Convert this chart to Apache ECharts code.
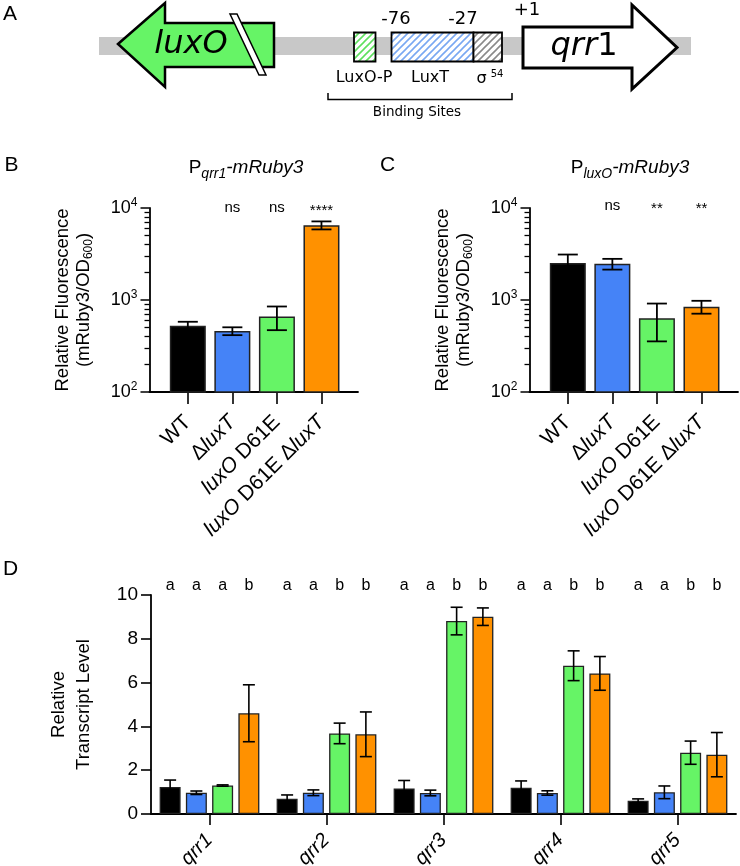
<!DOCTYPE html>
<html>
<head>
<meta charset="utf-8">
<script src="https://cdn.jsdelivr.net/npm/echarts@6/dist/echarts.min.js"></script>
<style>
  html, body { margin: 0; padding: 0; background: #fff; }
  #main { width: 740px; height: 866px; }
</style>
</head>
<body>
<div id="main"></div>
<script>
// strains shared by panels B, C and D
const strains = ['WT', 'ΔluxT', 'luxO D61E', 'luxO D61E ΔluxT']
const strainColors = ['#000000', '#4583f7', '#66f466', '#ff9100']

// panel B: Pqrr1-mRuby3 (log scale)
const bMean = [525, 460, 660, 6500]
const bErr = [55, 45, 190, 650]
const bSig = ['', 'ns', 'ns', '****']

// panel C: PluxO-mRuby3 (log scale)
const cMean = [2530, 2470, 635, 845]
const cErr = [590, 330, 280, 135]
const cSig = ['', 'ns', '**', '**']

// log axis ticks
const logDecades = [100, 1000, 10000]
const logMinor = [200, 300, 400, 500, 600, 700, 800, 900, 2000, 3000, 4000, 5000, 6000, 7000, 8000, 9000]

// panel D: relative transcript levels
const genes = ['qrr1', 'qrr2', 'qrr3', 'qrr4', 'qrr5']
const dWT = [1.23, 0.70, 1.17, 1.20, 0.61]
const dWTErr = [0.32, 0.17, 0.36, 0.31, 0.08]
const dLuxT = [0.97, 0.97, 0.96, 0.96, 0.99]
const dLuxTErr = [0.08, 0.13, 0.13, 0.10, 0.29]
const dD61E = [1.30, 3.68, 8.81, 6.77, 2.80]
const dD61EErr = [0.03, 0.47, 0.63, 0.68, 0.53]
const dDouble = [4.60, 3.64, 9.01, 6.42, 2.71]
const dDoubleErr = [1.30, 1.02, 0.40, 0.77, 1.01]
const lettersWT = ['a', 'a', 'a', 'a', 'a']
const lettersLuxT = ['a', 'a', 'a', 'a', 'a']
const lettersD61E = ['a', 'b', 'b', 'b', 'b']
const lettersDouble = ['b', 'b', 'b', 'b', 'b']

const font = 'Liberation Sans'
const dFont = 'DejaVu Sans'
const axisLine = { show: true, onZero: false, lineStyle: { color: '#000', width: 1.8 } }

// italic gene names inside strain labels
const italicize = s => s.replace(/(luxO|luxT)/g, '{i|$1}')

// hatch fill for the binding site boxes
function hatch(color) {
  const s = 7
  const c = document.createElement('canvas')
  c.width = s; c.height = s
  const g = c.getContext('2d')
  g.fillStyle = '#fff'
  g.fillRect(0, 0, s, s)
  g.strokeStyle = color
  g.lineWidth = 1.6
  g.beginPath()
  g.moveTo(0, s); g.lineTo(s, 0)
  g.moveTo(-s / 2, s / 2); g.lineTo(s / 2, -s / 2)
  g.moveTo(s / 2, s * 1.5); g.lineTo(s * 1.5, s / 2)
  g.stroke()
  return { image: c, repeat: 'repeat' }
}

function logYAxes(gridIndex) {
  return [
    {
      type: 'log', logBase: 10, gridIndex, min: 100, max: 10000, position: 'left',
      axisLine: axisLine,
      axisTick: { show: true, length: 9, customValues: logDecades, lineStyle: { color: '#000', width: 1.5 } },
      splitLine: { show: false },
      axisLabel: {
        margin: 12, customValues: logDecades,
        formatter: v => '{n|10}{s|' + Math.round(Math.log10(v)) + '}',
        rich: {
          n: { fontSize: 18, fontFamily: font, color: '#000', lineHeight: 22 },
          s: { fontSize: 12, fontFamily: font, color: '#000', lineHeight: 12, verticalAlign: 'top' }
        }
      },
      name: 'Relative Fluorescence\n(mRuby3/OD{sub|600})',
      nameLocation: 'middle', nameGap: 55,
      nameTextStyle: {
        fontSize: 18.5, fontFamily: font, color: '#000', lineHeight: 21,
        rich: { sub: { fontSize: 12, fontFamily: font, color: '#000', lineHeight: 8, verticalAlign: 'bottom' } }
      }
    },
    {
      // minor ticks
      type: 'log', logBase: 10, gridIndex, min: 100, max: 10000, position: 'left',
      axisLine: { show: false, onZero: false },
      axisLabel: { show: false },
      splitLine: { show: false },
      axisTick: { show: true, length: 5, customValues: logMinor, lineStyle: { color: '#000', width: 1.3 } }
    }
  ]
}

function strainXAxis(gridIndex) {
  return {
    type: 'value', gridIndex, min: -0.86, max: 3.82,
    axisLine: axisLine,
    splitLine: { show: false },
    axisTick: { show: true, length: 12, customValues: strains.map((s, i) => i), lineStyle: { color: '#000', width: 1.6 } },
    axisLabel: {
      customValues: strains.map((s, i) => i), rotate: 45, margin: 27,
      fontSize: 21, fontFamily: font, color: '#000',
      formatter: v => italicize(strains[Math.round(v)]),
      rich: { i: { fontStyle: 'italic', fontSize: 21, fontFamily: font, color: '#000' } }
    }
  }
}

function errorBars(xIdx, yIdx, data, offset, capHalf, width) {
  return {
    type: 'custom', xAxisIndex: xIdx, yAxisIndex: yIdx, z: 4, silent: true,
    encode: { x: 0, y: 1 },
    data,
    renderItem: (params, api) => {
      const x = api.value(0), m = api.value(1), e = api.value(2)
      const hi = api.coord([x, m + e])
      const lo = api.coord([x, m - e])
      const cx = hi[0] + offset
      const st = { stroke: '#000', lineWidth: width }
      return {
        type: 'group', children: [
          { type: 'line', shape: { x1: cx, y1: hi[1], x2: cx, y2: lo[1] }, style: st },
          { type: 'line', shape: { x1: cx - capHalf, y1: hi[1], x2: cx + capHalf, y2: hi[1] }, style: st },
          { type: 'line', shape: { x1: cx - capHalf, y1: lo[1], x2: cx + capHalf, y2: lo[1] }, style: st }
        ]
      }
    }
  }
}

function textMarks(xIdx, yIdx, labels, yVal, offset, dy, size) {
  return {
    type: 'custom', xAxisIndex: xIdx, yAxisIndex: yIdx, z: 5, silent: true,
    encode: { x: 0, y: 1 },
    data: labels.map((t, i) => [i, yVal]),
    renderItem: (params, api) => {
      const p = api.coord([api.value(0), api.value(1)])
      const t = labels[params.dataIndex]
      return {
        type: 'text', x: p[0] + offset, y: p[1] + dy + (t.indexOf('*') >= 0 ? 3 : 0),
        style: { text: t, textAlign: 'center', textVerticalAlign: 'middle', fontSize: size, fontFamily: font, fill: '#000' }
      }
    }
  }
}

function strainBars(xIdx, yIdx, means) {
  return {
    type: 'bar', xAxisIndex: xIdx, yAxisIndex: yIdx, barWidth: 36, clip: true,
    itemStyle: { borderColor: '#222', borderWidth: 1.5 },
    data: means.map((v, i) => ({ value: [i, v], itemStyle: { color: strainColors[i] } }))
  }
}

// panel D series
const dMeans = [dWT, dLuxT, dD61E, dDouble]
const dErrs = [dWTErr, dLuxTErr, dD61EErr, dDoubleErr]
const dLetters = [lettersWT, lettersLuxT, lettersD61E, lettersDouble]
const dPitch = 21 * 1.25
const dSeries = []
strains.forEach((s, k) => {
  dSeries.push({
    type: 'bar', name: s, xAxisIndex: 2, yAxisIndex: 4,
    barWidth: 21, barGap: '25%',
    itemStyle: { color: strainColors[k], borderColor: '#222', borderWidth: 1.3 },
    data: dMeans[k]
  })
})
strains.forEach((s, k) => {
  const off = (k - 1.5) * dPitch
  dSeries.push(errorBars(2, 4, genes.map((g, i) => [i, dMeans[k][i], dErrs[k][i]]), off, 6, 1.6))
  dSeries.push(textMarks(2, 4, dLetters[k], 10, off, -9, 16))
})

// panel A diagram pieces
const t = (text, x, y, size, extra) => ({
  type: 'text',
  style: Object.assign({ text, x, y, textAlign: 'center', textVerticalAlign: 'middle', fontSize: size, fontFamily: dFont, fill: '#000' }, extra || {})
})
const diagram = [
  { type: 'rect', shape: { x: 99, y: 37, width: 592, height: 18 }, style: { fill: '#c8c8c8' } },
  { type: 'polygon', shape: { points: [[118, 44], [165, 3], [165, 23], [274, 23], [274, 67], [165, 67], [165, 87]] },
    style: { fill: '#66f466', stroke: '#000', lineWidth: 2.5, lineJoin: 'miter' } },
  { type: 'polygon', shape: { points: [[230, 14], [237, 14], [266, 75], [259, 75]] },
    style: { fill: '#fff', stroke: '#000', lineWidth: 1.5 } },
  t('luxO', 191, 45, 32, { fontStyle: 'italic' }),
  { type: 'rect', shape: { x: 354, y: 32.5, width: 21.5, height: 29 }, style: { fill: hatch('#5ee05e'), stroke: '#000', lineWidth: 1.8 } },
  { type: 'rect', shape: { x: 391.5, y: 32.5, width: 82, height: 29 }, style: { fill: hatch('#79a8f2'), stroke: '#000', lineWidth: 1.8 } },
  { type: 'rect', shape: { x: 473.5, y: 32.5, width: 28.5, height: 29 }, style: { fill: hatch('#8a8a8a'), stroke: '#000', lineWidth: 1.8 } },
  t('-76', 396, 19, 18),
  t('-27', 463, 19, 18),
  t('+1', 527, 10, 18),
  t('LuxO-P', 364, 78, 16),
  t('LuxT', 430, 78, 16),
  t('σ', 481.5, 79, 16),
  t('54', 497, 74.5, 10),
  { type: 'polyline', shape: { points: [[328, 93], [328, 99.5], [512, 99.5], [512, 93]] },
    style: { fill: null, stroke: '#000', lineWidth: 1.5 } },
  t('Binding Sites', 417, 112, 13.5),
  { type: 'polygon', shape: { points: [[523, 27], [632, 27], [632, 5], [677, 47.5], [632, 89], [632, 68], [523, 68]] },
    style: { fill: '#fff', stroke: '#000', lineWidth: 3, lineJoin: 'miter' } },
  t('{i|qrr}1', 584, 47, 32, { rich: { i: { fontStyle: 'italic', fontSize: 32, fontFamily: dFont, fill: '#000' } } })
]

// panel letters and titles
const titleRich = {
  sub: { fontSize: 14, fontStyle: 'italic', fontFamily: font, fill: '#000', lineHeight: 10, verticalAlign: 'bottom' },
  i: { fontSize: 19, fontStyle: 'italic', fontFamily: font, fill: '#000' }
}
const labels = [
  { type: 'text', style: { text: 'A', x: 10, y: 14, textAlign: 'center', textVerticalAlign: 'middle', fontSize: 21, fontFamily: font, fill: '#000' } },
  { type: 'text', style: { text: 'B', x: 11.5, y: 165.5, textAlign: 'center', textVerticalAlign: 'middle', fontSize: 21, fontFamily: font, fill: '#000' } },
  { type: 'text', style: { text: 'C', x: 387.5, y: 165, textAlign: 'center', textVerticalAlign: 'middle', fontSize: 21, fontFamily: font, fill: '#000' } },
  { type: 'text', style: { text: 'D', x: 10.5, y: 569, textAlign: 'center', textVerticalAlign: 'middle', fontSize: 21, fontFamily: font, fill: '#000' } },
  { type: 'text', style: { text: 'P{sub|qrr1}{i|-mRuby3}', x: 246, y: 168, textAlign: 'center', textVerticalAlign: 'middle',
      fontSize: 19, fontFamily: font, fill: '#000', lineHeight: 26, rich: titleRich } },
  { type: 'text', style: { text: 'P{sub|luxO}{i|-mRuby3}', x: 630, y: 168, textAlign: 'center', textVerticalAlign: 'middle',
      fontSize: 19, fontFamily: font, fill: '#000', lineHeight: 26, rich: titleRich } }
]

const myChart = echarts.init(document.getElementById('main'))

const option = {
  animation: false,
  backgroundColor: '#fff',
  textStyle: { fontFamily: font },
  graphic: [...diagram, ...labels],
  grid: [
    { left: 149.5, top: 208, width: 208.5, height: 184, outerBoundsMode: 'none', containLabel: false },
    { left: 529.5, top: 208, width: 208.5, height: 184, outerBoundsMode: 'none', containLabel: false },
    { left: 151, top: 595, width: 585, height: 219, outerBoundsMode: 'none', containLabel: false }
  ],
  xAxis: [
    strainXAxis(0),
    strainXAxis(1),
    {
      type: 'category', gridIndex: 2, data: genes, boundaryGap: true,
      axisLine: axisLine,
      axisTick: { show: true, alignWithLabel: true, interval: 0, length: 11, lineStyle: { color: '#000', width: 1.6 } },
      axisLabel: {
        interval: 0, rotate: 45, margin: 23, fontSize: 20, fontStyle: 'italic', fontFamily: font, color: '#000'
      }
    }
  ],
  yAxis: [
    ...logYAxes(0),
    ...logYAxes(1),
    {
      type: 'value', gridIndex: 2, min: 0, max: 10, interval: 2,
      axisLine: axisLine,
      axisTick: { show: true, length: 10, lineStyle: { color: '#000', width: 1.6 } },
      splitLine: { show: false },
      axisLabel: { margin: 13, fontSize: 19, fontFamily: font, color: '#000' },
      name: 'Relative\nTranscript Level', nameLocation: 'middle', nameGap: 55,
      nameTextStyle: { fontSize: 18.5, fontFamily: font, color: '#000', lineHeight: 25 }
    }
  ],
  series: [
    strainBars(0, 0, bMean),
    errorBars(0, 0, bMean.map((v, i) => [i, v, bErr[i]]), 0, 10, 1.8),
    textMarks(0, 0, bSig, 10000, 0, 0, 15),
    strainBars(1, 2, cMean),
    errorBars(1, 2, cMean.map((v, i) => [i, v, cErr[i]]), 0, 10, 1.8),
    textMarks(1, 2, cSig, 10000, 0, -2, 15),
    ...dSeries
  ]
}

myChart.setOption(option)
</script>
</body>
</html>
